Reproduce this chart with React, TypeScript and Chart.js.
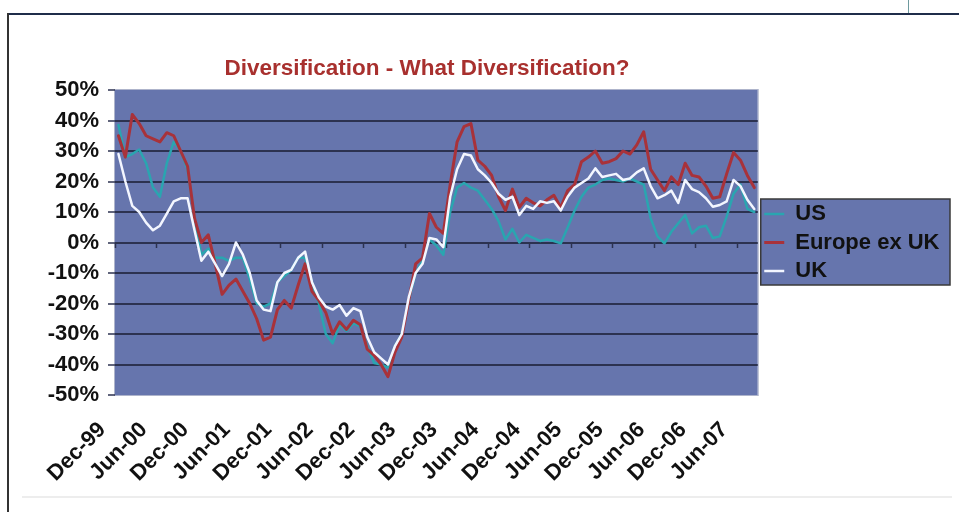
import { useEffect, useRef } from 'react';
import { Chart, registerables } from 'chart.js';

Chart.register(...registerables);

// Monthly observations, Dec-99 .. Aug-07
const months = [
  'Dec-99',
  'Jan-00', 'Feb-00', 'Mar-00', 'Apr-00', 'May-00', 'Jun-00', 'Jul-00', 'Aug-00', 'Sep-00', 'Oct-00', 'Nov-00', 'Dec-00',
  'Jan-01', 'Feb-01', 'Mar-01', 'Apr-01', 'May-01', 'Jun-01', 'Jul-01', 'Aug-01', 'Sep-01', 'Oct-01', 'Nov-01', 'Dec-01',
  'Jan-02', 'Feb-02', 'Mar-02', 'Apr-02', 'May-02', 'Jun-02', 'Jul-02', 'Aug-02', 'Sep-02', 'Oct-02', 'Nov-02', 'Dec-02',
  'Jan-03', 'Feb-03', 'Mar-03', 'Apr-03', 'May-03', 'Jun-03', 'Jul-03', 'Aug-03', 'Sep-03', 'Oct-03', 'Nov-03', 'Dec-03',
  'Jan-04', 'Feb-04', 'Mar-04', 'Apr-04', 'May-04', 'Jun-04', 'Jul-04', 'Aug-04', 'Sep-04', 'Oct-04', 'Nov-04', 'Dec-04',
  'Jan-05', 'Feb-05', 'Mar-05', 'Apr-05', 'May-05', 'Jun-05', 'Jul-05', 'Aug-05', 'Sep-05', 'Oct-05', 'Nov-05', 'Dec-05',
  'Jan-06', 'Feb-06', 'Mar-06', 'Apr-06', 'May-06', 'Jun-06', 'Jul-06', 'Aug-06', 'Sep-06', 'Oct-06', 'Nov-06', 'Dec-06',
  'Jan-07', 'Feb-07', 'Mar-07', 'Apr-07', 'May-07', 'Jun-07', 'Jul-07', 'Aug-07',
];

// Annual returns, in percent
const us = [
  38.5, 28, 29, 30.5, 26, 18, 15, 26, 33, 30, 24, 8, -4,
  -2, -5, -5, -6, -5, -5, -12, -20, -21, -20, -13, -11,
  -9, -5, -5, -13, -20, -30, -33, -27, -29, -26.5, -27.5, -34,
  -39.5, -40, -41, -34, -30, -19, -10, -6, 1, -1, -4, 10,
  18, 19.5, 18, 17, 14, 11, 7, 1, 4.5, 0, 2.5, 1.5,
  0.5, 1, 0.5, -0.3, 5, 10.5, 15, 18, 19, 20.5, 21, 20.5,
  20, 21, 20, 19, 8, 2, -0.3, 3.5, 6.3, 9, 3, 5,
  5.5, 1.5, 2, 8.5, 16, 19, 11, 10,
];

const europeExUk = [
  35, 28, 42, 39, 35, 34, 33, 36, 35, 30, 25, 8, 0,
  2.5, -7, -17, -14, -12, -16, -20, -25, -32, -31, -22, -19,
  -21.5, -14, -7, -16, -19, -23, -30, -26, -28.5, -25.5, -27, -35,
  -37, -40, -44, -36, -31, -19, -7, -5, 9.5, 5, 3, 19,
  33, 38, 39, 27, 25, 22, 15, 10.5, 17.5, 11.5, 14.5, 13,
  12, 14, 15.5, 11.5, 17, 19, 26.5, 28, 30, 26, 26.5, 27.5,
  30, 29, 32, 36.3, 24, 20.5, 17, 21.5, 19, 26, 22, 21.5,
  18.5, 14.5, 15, 22.5, 29.5, 27, 22, 18,
];

const uk = [
  29, 20, 12, 10, 6.5, 4, 5.5, 9.5, 13.5, 14.5, 14.5, 4, -6,
  -3, -7, -11, -7, 0, -4, -10, -19, -22, -22.5, -13, -10,
  -9, -5, -3, -13, -18, -21, -22, -20.5, -24, -21.5, -22.5, -31,
  -36, -38, -40, -34, -30, -18, -10, -7, 1.5, 1, -1.5, 15,
  24, 29, 28.5, 24, 22, 19.5, 16, 14, 15, 9, 12, 11,
  13.5, 13, 13.5, 10.5, 15, 18, 19.5, 21, 24.3, 21.5, 22, 22.5,
  20.5, 21, 23, 24.3, 18.5, 14.5, 15.5, 17, 13, 20.5, 17.5, 16.5,
  14.5, 11.7, 12.3, 13.5, 20.5, 18.5, 14, 11,
];

const seriesNames = ['US', 'Europe ex UK', 'UK'];
const titleText = 'Diversification - What Diversification?';

const FONT = "'Liberation Sans', Arial, sans-serif";
const PLOT_BG = '#6675AD';
const GRID = '#2C3250';
const TEAL = '#2AA5B0';
const RED = '#A8323A';
const WHITE = '#F3F6FF';

// Paints the plot-area fill and the framed legend panel behind everything else
const backdrop = {
  id: 'backdrop',
  beforeDraw(chart: any) {
    const { ctx, chartArea: a } = chart;
    ctx.save();
    ctx.fillStyle = PLOT_BG;
    ctx.fillRect(a.left, a.top, a.right - a.left, a.bottom - a.top);
    ctx.strokeStyle = '#AEB4CB';
    ctx.lineWidth = 1;
    ctx.strokeRect(a.left - 0.5, a.top - 0.5, a.right - a.left + 1, a.bottom - a.top + 1);

    const boxes = chart.legend && chart.legend.legendHitBoxes;
    if (boxes && boxes.length) {
      const l = Math.min(...boxes.map((b: any) => b.left)) - 3.5;
      const r = Math.max(...boxes.map((b: any) => b.left + b.width)) + 10.5;
      const t = boxes[0].top - 4;
      const last = boxes[boxes.length - 1];
      const btm = last.top + last.height + 3;
      ctx.fillStyle = PLOT_BG;
      ctx.fillRect(l, t, r - l, btm - t);
      ctx.strokeStyle = '#3A3A3A';
      ctx.lineWidth = 1.5;
      ctx.strokeRect(l, t, r - l, btm - t);
    }
    ctx.restore();
  },
};

export default function App() {
  const ref = useRef<HTMLCanvasElement>(null);

  useEffect(() => {
    const canvas = ref.current;
    if (!canvas) return;
    const chart = new Chart(canvas, {
      type: 'line',
      data: {
        labels: months,
        datasets: [
          { label: seriesNames[0], data: us, borderColor: TEAL, backgroundColor: TEAL, borderWidth: 2.5, order: 3 },
          { label: seriesNames[1], data: europeExUk, borderColor: RED, backgroundColor: RED, borderWidth: 3, order: 2 },
          { label: seriesNames[2], data: uk, borderColor: WHITE, backgroundColor: WHITE, borderWidth: 2.5, order: 1 },
        ],
      },
      options: {
        responsive: false,
        animation: false,
        events: [],
        layout: { padding: { left: -95.5, right: 9.5, top: 50, bottom: 0 } },
        elements: {
          point: { radius: 0 },
          line: { tension: 0, borderJoinStyle: 'round', borderCapStyle: 'round' },
        },
        scales: {
          x: {
            type: 'category',
            offset: true,
            grid: { display: false },
            border: { display: false },
            ticks: {
              autoSkip: false,
              minRotation: 45,
              maxRotation: 45,
              padding: 14,
              labelOffset: -16,
              color: '#111',
              font: { family: FONT, size: 22, weight: 'bold' },
              callback: (_v: any, i: number) => (i % 6 === 0 ? months[i] : ''),
            },
            afterFit: (s: any) => {
              s.height = 117;
            },
          },
          // category axis crossing at 0%: only its half-yearly tick marks are drawn
          xCross: {
            type: 'category',
            axis: 'x',
            position: { y: 0 },
            offset: true,
            grid: {
              offset: true,
              drawOnChartArea: false,
              drawTicks: true,
              tickLength: 5,
              tickWidth: 1.5,
              tickColor: (c: any) => (c.index % 6 === 0 ? GRID : 'rgba(0,0,0,0)'),
            },
            ticks: { display: false },
            border: { display: false },
          },
          y: {
            min: -50,
            max: 50,
            ticks: {
              stepSize: 10,
              padding: 9,
              color: '#111',
              font: { family: FONT, size: 22, weight: 'bold' },
              callback: (v: any) => `${v}%`,
            },
            grid: {
              color: (c: any) => (c.tick && Math.abs(c.tick.value) === 50 ? 'rgba(0,0,0,0)' : GRID),
              lineWidth: 2,
              tickLength: 7,
              tickColor: GRID,
              tickWidth: 1.5,
            },
            border: { display: false },
            afterFit: (s: any) => {
              s.width = 210.5;
            },
          },
        },
        plugins: {
          title: {
            display: true,
            text: titleText,
            color: '#A8302E',
            font: { family: FONT, size: 22.5, weight: 'bold' },
            padding: { top: 5.5, bottom: 7.5 },
          },
          legend: {
            position: 'right',
            align: 'center',
            fullSize: false,
            labels: {
              usePointStyle: true,
              pointStyle: 'line',
              pointStyleWidth: 20,
              padding: 6.5,
              color: '#111',
              font: { family: FONT, size: 22, weight: 'bold' },
              sort: (a: any, b: any) => a.datasetIndex - b.datasetIndex,
            },
          },
          tooltip: { enabled: false },
        },
      },
      plugins: [backdrop],
    } as any);
    return () => chart.destroy();
  }, []);

  return (
    <div
      style={{
        position: 'fixed',
        left: 0,
        top: 0,
        width: 959,
        height: 512,
        background: '#fff',
        overflow: 'hidden',
      }}
    >
      <canvas ref={ref} width={959} height={512} style={{ position: 'absolute', left: 0, top: 0, width: 959, height: 512 }} />
      <div style={{ position: 'absolute', left: 8, top: 13, width: 951, height: 2, background: '#1F2D4A' }} />
      <div style={{ position: 'absolute', left: 7, top: 13, width: 2, height: 499, background: '#333' }} />
      <div style={{ position: 'absolute', left: 908, top: 0, width: 1, height: 13, background: '#6E9A9E' }} />
      <div style={{ position: 'absolute', left: 22, top: 496, width: 930, height: 2, background: '#EDEDED' }} />
    </div>
  );
}
